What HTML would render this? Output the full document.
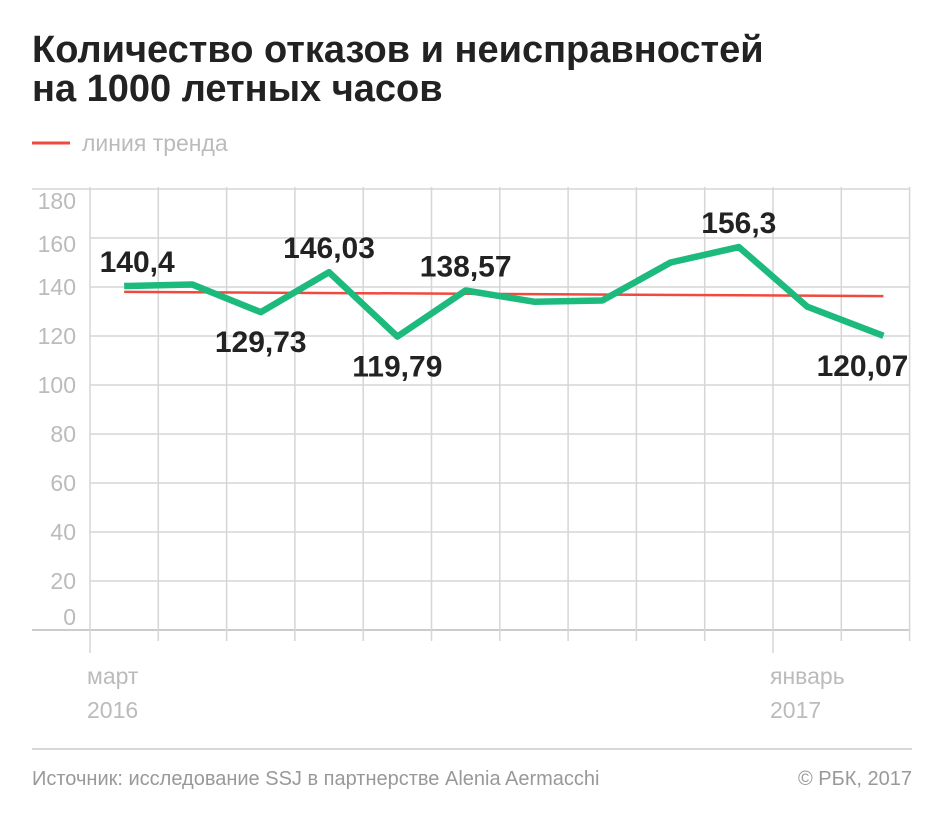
<!DOCTYPE html>
<html><head><meta charset="utf-8"><style>
body{margin:0;background:#fff;width:945px;height:816px;overflow:hidden;font-family:"Liberation Sans",sans-serif}
svg{display:block}
</style></head><body>
<svg id="c" width="945" height="816">
<text x="32" y="62" font-size="38" font-weight="bold" fill="#222">Количество отказов и неисправностей</text>
<text x="32" y="101" font-size="38" font-weight="bold" fill="#222">на 1000 летных часов</text>
<line x1="32" y1="143" x2="70" y2="143" stroke="#f04a3e" stroke-width="3"/>
<text x="82" y="151" font-size="23" fill="#bbb">линия тренда</text>
<g id="grid"></g>
<g id="marks"></g>
<line x1="32" y1="749" x2="912" y2="749" stroke="#ccc" stroke-width="1.5"/>
<text x="32" y="785" font-size="20" fill="#999">Источник: исследование SSJ в партнерстве Alenia Aermacchi</text>
<text x="912" y="785" font-size="20" fill="#999" text-anchor="end">© РБК, 2017</text>
</svg>
<script>
const months=["мар","апр","май","июн","июл","авг","сен","окт","ноя","дек","янв","фев"];
const values=[140.4,141,129.73,146.03,119.79,138.57,134,134.5,150,156.3,132,120.07];
const labels=["140,4","","129,73","146,03","119,79","138,57","","","","156,3","","120,07"];
const labelPos=["above","","below","above","below","above","","","","above","","below"];
const trend=[138,136.3];
const yTicks=[0,20,40,60,80,100,120,140,160,180];
const NS="http://www.w3.org/2000/svg";
const x0=90,step=68.3,yBase=630,yTop=189;
const X=i=>x0+step*(i+0.5);
const Y=v=>yBase-(v/180)*(yBase-yTop);
function mk(t,a,p){const e=document.createElementNS(NS,t);for(const k in a)e.setAttribute(k,a[k]);p.appendChild(e);return e;}
const g=document.getElementById('grid'),m=document.getElementById('marks');
yTicks.forEach(v=>{
 const full=(v===0||v===180);
 const l=mk('line',{x1:full?32:90,x2:910,y1:Y(v),y2:Y(v),stroke:v===0?'#bbb':'#d6d6d6','stroke-width':1.5},g);
 
 
 let c=Y(v)+(v>140?(v-140)/40*12:0); if(v===0)c=Y(0)-13;
 const t=mk('text',{x:76,y:c+8,'font-size':23,fill:'#bbb','text-anchor':'end'},g);
 t.textContent=v;
 
 
});
for(let i=0;i<=months.length;i++){
 const x=x0+step*i;
 const major=(i===0||i===10);
 const l=mk('line',{x1:x,x2:x,y1:187,y2:major?653:641,stroke:'#d6d6d6','stroke-width':1.5},g);
 
 
}
[[0,"март","2016"],[10,"январь","2017"]].forEach(([i,a,b])=>{
 const x=x0+step*i-3;
 const t1=mk('text',{x:x,y:684,'font-size':23,fill:'#bbb'},g);t1.textContent=a;
 
 
 const t2=mk('text',{x:x,y:718,'font-size':23,fill:'#bbb'},g);t2.textContent=b;
 
 
});
const tl=mk('line',{x1:X(0),x2:X(11)+8,y1:Y(trend[0]),y2:Y(trend[1]),stroke:'#f04a3e','stroke-width':2.5},m);


const pts=values.map((v,i)=>[X(i),Y(v)]);
pts[pts.length-1][0]+=8;
const pl=mk('polyline',{points:pts.map(p=>p.join(',')).join(' '),fill:'none',stroke:'#1dba7e','stroke-width':6.5,'stroke-linejoin':'round'},m);


labels.forEach((s,i)=>{
 if(!s)return;
 const above=labelPos[i]==="above";
 const t=mk('text',{x:X(i),y:Y(values[i])+(above?-14:40),'font-size':30,'font-weight':'bold',fill:'#222','text-anchor':'middle'},m);
 if(i===0){t.setAttribute('x',X(0)+13);}
 if(i===11){t.setAttribute('x',X(11)-13);}
 t.textContent=s;
 
 
});
</script>
</body></html>
